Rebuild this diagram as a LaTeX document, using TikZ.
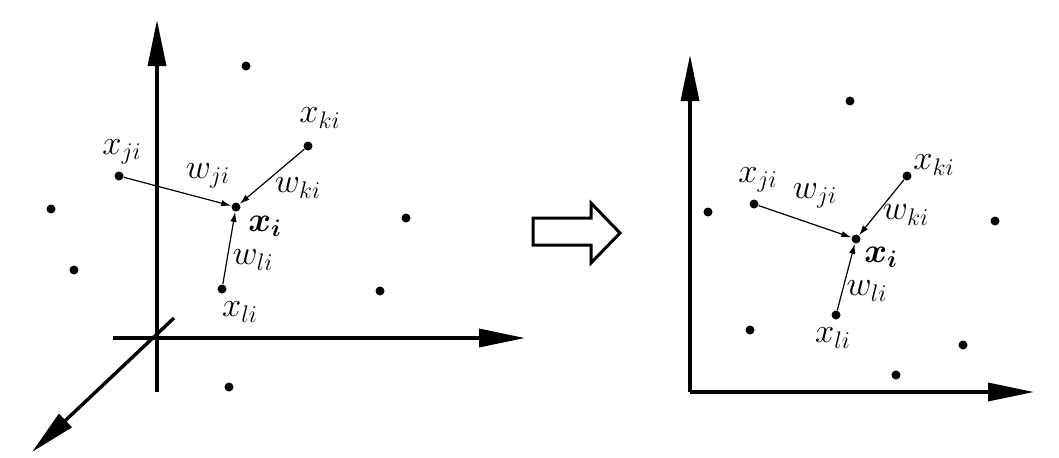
\documentclass[tikz,border=0pt]{standalone}
\usepackage{amsmath,amssymb}
\usepackage{xcolor}
\usepackage{tikz}
\usetikzlibrary{arrows.meta,positioning,calc}

\begin{document}
\begin{tikzpicture}[
  x=0.5pt, y=-0.5pt,
  font=\LARGE,
  axis/.style={-{Triangle[length=23pt, width=9pt]}, line width=1.7pt, black},
  dot/.style={circle, fill=black, inner sep=0pt, minimum size=4.5pt},
  link/.style={-{Latex[length=5pt, width=3.2pt]}, black, line width=0.6pt},
  lbl/.style={inner sep=0pt},
  bigarrow/.style={line width=1.5pt, black, line join=miter}
]
\useasboundingbox (0, 0) rectangle (1059, 457);

% Linke Seite: dreidimensionales Achsenkreuz
\coordinate (lytop) at (157, 20);
\coordinate (lybot) at (157, 392);
\coordinate (lxstart) at (113, 338);
\coordinate (lxend) at (525, 338);
\coordinate (lzstart) at (174, 318);
\coordinate (lzend) at (32, 452);
\draw[axis] (lybot) -- (lytop);
\draw[axis] (lxstart) -- (lxend);
\draw[axis] (lzstart) -- (lzend);

% Punkte links
\node[dot] (la) at (246, 66) {};
\node[dot] (lxk) at (308, 146) {};
\node[dot] (lxj) at (119, 176) {};
\node[dot] (lxi) at (236, 207) {};
\node[dot] (lb) at (51, 209) {};
\node[dot] (lc) at (406, 218) {};
\node[dot] (ld) at (74, 270) {};
\node[dot] (lxl) at (222, 289) {};
\node[dot] (le) at (380, 291) {};
\node[dot] (lf) at (229, 387) {};

% Gewichtete Nachbarn links
\draw[link] (lxj) -- (lxi);
\draw[link] (lxk) -- (lxi);
\draw[link] (lxl) -- (lxi);
\node[lbl] (llxj) at (122, 152) {$x_{ji}$};
\node[lbl] (llxk) at (320, 118) {$x_{ki}$};
\node[lbl] (llxl) at (240, 312) {$x_{li}$};
\node[lbl] (llwj) at (208, 176) {$w_{ji}$};
\node[lbl] (llwk) at (298, 188) {$w_{ki}$};
\node[lbl] (llwl) at (253, 260) {$w_{li}$};
\node[lbl] (llxi) at (265, 226) {$\boldsymbol{x_i}$};

% Hohler Pfeil in der Mitte
\draw[bigarrow] (533, 218) -- (591, 218) -- (591, 203) -- (620, 233)
  -- (591, 263) -- (591, 245) -- (533, 245) -- cycle;

% Rechte Seite: zweidimensionales Achsenkreuz
\coordinate (ro) at (690, 392);
\coordinate (rytop) at (690, 55);
\coordinate (rxend) at (1034, 392);
\draw[axis] (ro) -- (rytop);
\draw[axis] (ro) -- (rxend);

% Punkte rechts
\node[dot] (ra) at (850, 101) {};
\node[dot] (rb) at (708, 212) {};
\node[dot] (rxj) at (754, 204) {};
\node[dot] (rxk) at (907, 176) {};
\node[dot] (rxi) at (856, 239) {};
\node[dot] (rc) at (995, 221) {};
\node[dot] (rd) at (750, 330) {};
\node[dot] (rxl) at (836, 315) {};
\node[dot] (re) at (963, 345) {};
\node[dot] (rf) at (896, 375) {};

% Gewichtete Nachbarn rechts
\draw[link] (rxj) -- (rxi);
\draw[link] (rxk) -- (rxi);
\draw[link] (rxl) -- (rxi);
\node[lbl] (rlxj) at (758, 180) {$x_{ji}$};
\node[lbl] (rlxk) at (934, 165) {$x_{ki}$};
\node[lbl] (rlxl) at (833, 338) {$x_{li}$};
\node[lbl] (rlwj) at (815, 196) {$w_{ji}$};
\node[lbl] (rlwk) at (906, 215) {$w_{ki}$};
\node[lbl] (rlwl) at (867, 291) {$w_{li}$};
\node[lbl] (rlxi) at (881, 257) {$\boldsymbol{x_i}$};

\end{tikzpicture}
\end{document}
